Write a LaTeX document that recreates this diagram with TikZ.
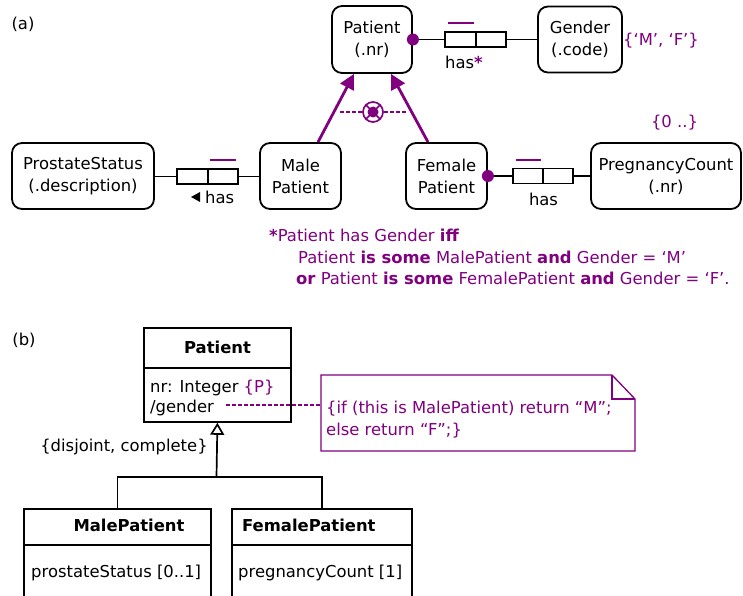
\documentclass[tikz,border=0pt]{standalone}
\usepackage{fontspec}
\setmainfont{DejaVu Sans}
\usetikzlibrary{arrows.meta,calc}
\definecolor{pur}{RGB}{128,0,128}
\begin{document}
\begin{tikzpicture}[x=1pt,y=-1pt,
  every node/.style={font=\fontsize{16.4}{22}\selectfont, inner sep=0pt},
  ormbox/.style={draw, line width=1.8pt, rounded corners=10pt, align=center},
  rolebox/.style={draw, line width=1.7pt, minimum height=15pt, minimum width=30.5pt},
  conn/.style={line width=1.7pt},
  ubar/.style={draw=pur, line width=2.2pt},
  subarrow/.style={draw=pur, line width=2.8pt, -{Triangle[length=15pt,width=15pt]}},
  pdash/.style={draw=pur, line width=2.2pt, dash pattern=on 4pt off 2pt},
  umlbox/.style={draw, line width=1.8pt, anchor=north west},
  ptxt/.style={text=pur},
  lbl/.style={anchor=base west},
  notebox/.style={draw=pur, line width=1.3pt},
  boldtxt/.style={font=\fontsize{16.4}{22}\selectfont\bfseries}
]
\useasboundingbox (0,0) rectangle (743,596);

% ---------- (a) ----------
\node (la) at (23,24) {(a)};

\node[ormbox, minimum width=80pt, minimum height=67pt] (pat) at (372,39.5) {Patient\\(.nr)};
\node[ormbox, minimum width=84pt, minimum height=66pt] (gen) at (580,39.5) {Gender\\(.code)};
\node[ormbox, minimum width=81pt, minimum height=66pt] (male) at (300.5,176) {Male\\Patient};
\node[ormbox, minimum width=81pt, minimum height=66pt] (fem) at (446.5,176) {Female\\Patient};
\node[ormbox, minimum width=142pt, minimum height=66pt] (pro) at (83,176) {ProstateStatus\\(.description)};
\node[ormbox, minimum width=150pt, minimum height=66pt] (preg) at (666,176) {PregnancyCount\\(.nr)};

% role boxes
\node[rolebox] (r1a) at (460.5,39.5) {};
\node[rolebox] (r1b) at (491,39.5) {};
\node[rolebox] (r2a) at (192.5,176.5) {};
\node[rolebox] (r2b) at (223,176.5) {};
\node[rolebox] (r3a) at (528,176) {};
\node[rolebox] (r3b) at (558,176) {};

% connectors
\draw[conn] (pat.east |- r1a.west) -- (r1a.west);
\draw[conn] (r1b.east) -- (r1b.east -| gen.west);
\draw[conn] (r2a.west -| pro.east) -- (r2a.west);
\draw[conn] (r2b.east) -- (r2b.east -| male.west);
\draw[conn] (fem.east |- r3a.west) -- (r3a.west);
\draw[conn] (r3b.east) -- (r3b.east -| preg.west);

% mandatory dots
\fill[pur] (pat.east |- r1a.west) circle (6);
\fill[pur] (fem.east |- r3a.west) circle (6);

% uniqueness bars
\draw[ubar] ($(r1a.north west)+(4,-8)$) -- ($(r1a.north east)+(-3,-8)$);
\draw[ubar] ($(r2b.north west)+(3,-8)$) -- ($(r2b.north east)+(-3,-8)$);
\draw[ubar] ($(r3a.north west)+(4,-7.5)$) -- ($(r3a.north east)+(-3,-7.5)$);

% role labels
\node (has1) at (464,62) {has\textcolor{pur}{\textbf{*}}};
\node[anchor=west] (has2) at (205,197) {has};
\fill ($(has2.west)+(-14,0)$) -- ($(has2.west)+(-5,-5)$) -- ($(has2.west)+(-5,5)$) -- cycle;
\node (has3) at (543.5,199) {has};

% value constraints
\node[ptxt] (mf) at (661,41) {\{‘M’, ‘F’\}};
\node[ptxt] (zr) at (674.5,123) {\{0 ..\}};

% subtype arrows
\draw[subarrow] ($(male.north)+(17.5,0)$) -- ($(pat.south)+(-18,0)$);
\draw[subarrow] ($(fem.north)+(-18.5,0)$) -- ($(pat.south)+(19,0)$);

% exclusive-or constraint
\coordinate (xc) at (373,112);
\draw[pdash] ($(xc)+(-11,0)$) -- ($(xc)+(-33,0)$);
\draw[pdash] ($(xc)+(11,0)$) -- ($(xc)+(34,0)$);
\draw[pur, line width=1.7pt] (xc) circle (10);
\draw[pur, line width=1.7pt] ($(xc)+(-7.07,-7.07)$) -- ($(xc)+(7.07,7.07)$);
\draw[pur, line width=1.7pt] ($(xc)+(-7.07,7.07)$) -- ($(xc)+(7.07,-7.07)$);
\fill[pur] (xc) circle (5.5);

% derivation rule
\node[ptxt, lbl] (c1) at (269,241) {\textbf{*}Patient has Gender \textbf{iff}};
\node[ptxt, lbl] (c2) at (298,263) {Patient \textbf{is some} MalePatient \textbf{and} Gender = ‘M’};
\node[ptxt, lbl] (c3) at (296,284) {\textbf{or} Patient \textbf{is some} FemalePatient \textbf{and} Gender = ‘F’.};

% ---------- (b) ----------
\node (lb) at (24,340) {(b)};

\node[umlbox, minimum width=147pt, minimum height=94pt] (up) at (143,327) {};
\draw[conn] ($(up.north west)+(0,41)$) -- ($(up.north east)+(0,41)$);
\node[boldtxt] (upn) at (217.5,347) {Patient};
\node[lbl] (ua1) at (150,392) {nr: Integer \textcolor{pur}{\{P\}}};
\node[lbl] (ua2) at (150,412) {/gender};

% note
\coordinate (gd) at (226,405);
\coordinate (nl) at (321,405);
\draw[notebox] (321,375) -- (612,375) -- (635,399) -- (635,451) -- (321,451) -- cycle;
\draw[notebox] (612,375) -- (612,399) -- (635,399);
\draw[pdash] (gd) -- (nl);
\node[ptxt, lbl] (n1) at (326,413) {\{if (this is MalePatient) return “M”;};
\node[ptxt, lbl] (n2) at (326,435) {else return “F”;\}};

% subclasses
\node[umlbox, minimum width=187pt, minimum height=100pt] (um) at (23,508) {};
\node[umlbox, minimum width=180pt, minimum height=100pt] (uf) at (231,508) {};
\draw[conn] ($(um.north west)+(0,37)$) -- ($(um.north east)+(0,37)$);
\draw[conn] ($(uf.north west)+(0,37)$) -- ($(uf.north east)+(0,37)$);
\node[boldtxt, anchor=base] (umn) at (129,531) {MalePatient};
\node[boldtxt, anchor=base west] (ufn) at (242,531) {FemalePatient};
\node[lbl] (uma) at (31,577) {prostateStatus [0..1]};
\node[lbl] (ufa) at (238,577) {pregnancyCount [1]};

% generalization
\coordinate (gj) at (216.5,477);
\draw[conn] (um.north) |- (gj) -| (uf.north);
\draw[conn, -{Triangle[open, length=12pt, width=14pt]}] (gj) -- (up.south);
\node (dc) at (124,447) {\{disjoint, complete\}};
\end{tikzpicture}
\end{document}
